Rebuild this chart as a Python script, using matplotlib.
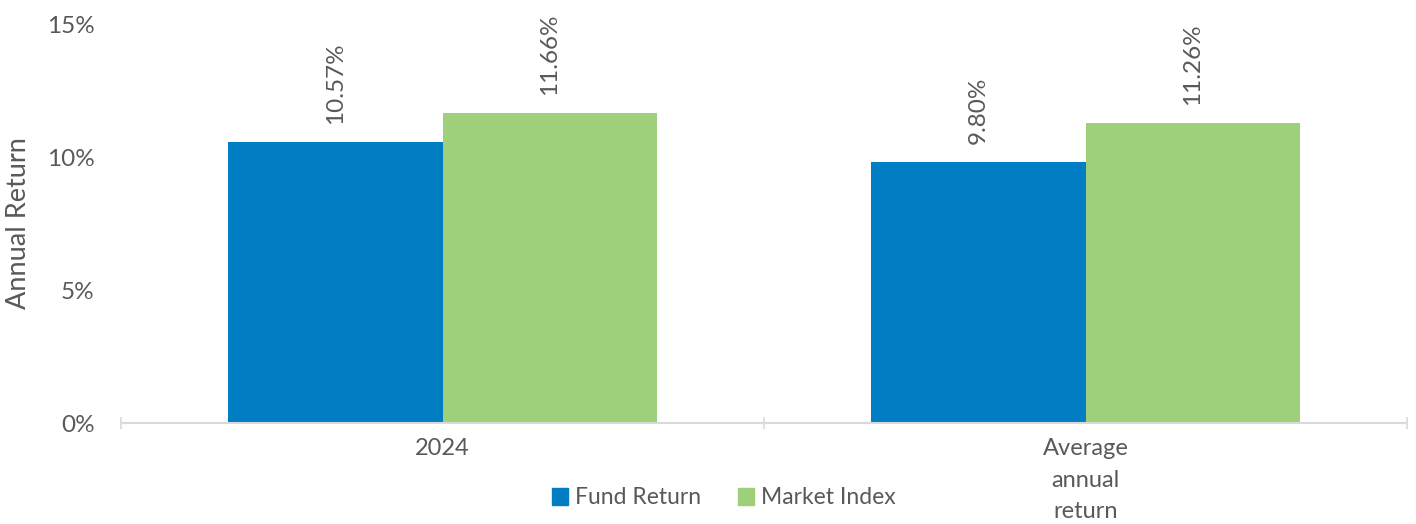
import matplotlib
matplotlib.use("Agg")
import matplotlib.pyplot as plt
import numpy as np
from matplotlib.patches import Patch

categories = ["2024", "Average\nannual\nreturn"]
series_names = ["Fund Return", "Market Index"]
fund_return = [10.57, 9.80]
market_index = [11.66, 11.26]
yticks = [0, 5, 10, 15]
ytick_labels = ["0%", "5%", "10%", "15%"]

colors = ["#007DC3", "#9ECF7A"]
text_color = "#595959"

plt.rcParams['font.family'] = ['Lato', 'DejaVu Sans']

fig = plt.figure(figsize=(14.16, 5.24), dpi=100)
ax = fig.add_axes([121/1416, 1-423/524, (1407-121)/1416, (423-24)/524])

x = np.arange(len(categories))
w = 1/3
b1 = ax.bar(x - w/2, fund_return, width=w, color=colors[0], label=series_names[0])
b2 = ax.bar(x + w/2, market_index, width=w, color=colors[1], label=series_names[1])

for bars, vals in ((b1, fund_return), (b2, market_index)):
    for r, v in zip(bars, vals):
        ax.annotate(f"{v:.2f}%", (r.get_x() + r.get_width()/2, v),
                    xytext=(0, 13), textcoords="offset points",
                    rotation=90, ha="center", va="bottom",
                    fontsize=17.5, color=text_color)

ax.set_xlim(-0.5, len(categories) - 0.5)
ax.set_ylim(0, 15)
ax.set_yticks(yticks)
ax.set_yticklabels(ytick_labels, fontsize=17.5, color=text_color)
ax.tick_params(axis='y', length=0, pad=19)

ax.set_xticks(x)
ax.set_xticklabels(categories, fontsize=17, color=text_color, linespacing=1.62, va='top')
ax.tick_params(axis='x', which='major', length=0, pad=11)
ax.set_xticks(np.arange(len(categories) + 1) - 0.5, minor=True)
ax.tick_params(axis='x', which='minor', length=8, color="#d9d9d9", width=1.2, direction='inout')

for s in ("top", "right", "left"):
    ax.spines[s].set_visible(False)
ax.spines["bottom"].set_color("#d9d9d9")
ax.spines["bottom"].set_linewidth(1.5)

ax.set_ylabel("Annual Return", fontsize=19.5, color=text_color)
ax.yaxis.set_label_coords((19 - 121)/1286, 0.5)
ax.yaxis.label.set_va('center')

handles = [Patch(color=c, label=n) for c, n in zip(colors, series_names)]
fig.legend(handles=handles, loc='center', bbox_to_anchor=(724/1416, 1-498/524),
           ncol=2, frameon=False, fontsize=16.5, labelcolor=text_color,
           handlelength=0.7, handleheight=0.7, handletextpad=0.3, columnspacing=1.6)

fig.savefig("out.png", dpi=100)
